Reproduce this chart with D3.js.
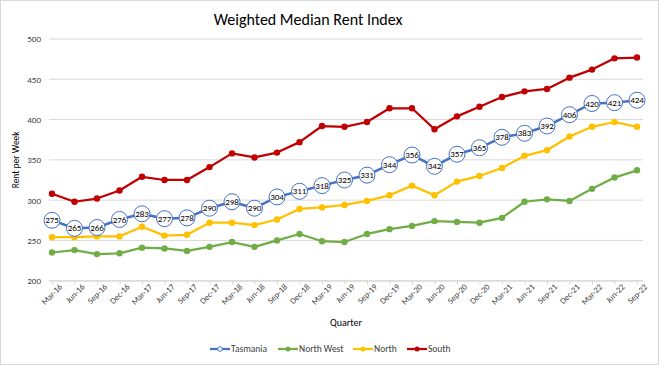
<!DOCTYPE html>
<html>
<head>
<meta charset="utf-8">
<script src="https://cdn.jsdelivr.net/npm/d3@7"></script>
<style>
  body { margin: 0; background: #fff; }
  svg { font-family: Calibri, Carlito, "Liberation Sans", Arial, sans-serif; }
  .grid line { stroke: #d9d9d9; stroke-width: 1; }
</style>
</head>
<body>
<svg id="chart" width="659" height="365"></svg>
<script>
// Chart data
const quarters = ["Mar-16","Jun-16","Sep-16","Dec-16","Mar-17","Jun-17","Sep-17","Dec-17","Mar-18","Jun-18",
  "Sep-18","Dec-18","Mar-19","Jun-19","Sep-19","Dec-19","Mar-20","Jun-20","Sep-20","Dec-20",
  "Mar-21","Jun-21","Sep-21","Dec-21","Mar-22","Jun-22","Sep-22"];
const tasmania = [275,265,266,276,283,277,278,290,298,290,304,311,318,325,331,344,356,342,357,365,378,383,392,406,420,421,424];
const northWest = [235,238,233,234,241,240,237,242,248,242,250,258,249,248,258,264,268,274,273,272,278,298,301,299,314,328,337];
const north = [254,254,255,255,267,256,257,272,272,269,276,289,291,294,299,306,318,306,323,330,340,355,362,379,391,397,391];
const south = [308,298,302,312,329,325,325,341,358,353,359,372,392,391,397,414,414,388,404,416,428,435,438,452,462,476,477];
const yTicks = [200,250,300,350,400,450,500];

const series = [
  { name: "Tasmania", values: tasmania, color: "#4472C4", labelled: true },
  { name: "North West", values: northWest, color: "#70AD47" },
  { name: "North", values: north, color: "#FFC000" },
  { name: "South", values: south, color: "#C00000" }
];

const svg = d3.select("#chart");
const W = 659, H = 365;

// outer border
svg.append("rect")
  .attr("x", 0.5).attr("y", 0.5)
  .attr("width", W - 1).attr("height", H - 1)
  .attr("fill", "#fff").attr("stroke", "#d9d9d9");

// scales
const x = d3.scalePoint().domain(quarters).range([52, 637]);
const y = d3.scaleLinear().domain([200, 500]).range([280.7, 39]);
const plotLeft = 49, plotRight = 643;

// title
svg.append("text")
  .attr("x", 308).attr("y", 25)
  .attr("text-anchor", "middle")
  .attr("font-size", 16)
  .attr("fill", "#000")
  .text("Weighted Median Rent Index");

// gridlines
const grid = svg.append("g").attr("class", "grid");
grid.selectAll("line")
  .data(yTicks)
  .join("line")
    .attr("x1", plotLeft).attr("x2", plotRight)
    .attr("y1", d => y(d)).attr("y2", d => y(d));

// y axis labels
const yAxis = d3.axisLeft(y).tickValues(yTicks).tickSize(0).tickPadding(8);
svg.append("g")
  .attr("transform", `translate(${plotLeft},0)`)
  .call(yAxis)
  .call(g => g.select(".domain").remove())
  .call(g => g.selectAll("text")
    .attr("font-size", 9).attr("fill", "#404040")
    .attr("font-family", "Calibri, Carlito, 'Liberation Sans', Arial, sans-serif"));

// x axis
const xAxis = d3.axisBottom(x).tickSize(4).tickPadding(3);
svg.append("g")
  .attr("transform", `translate(0,${y(200)})`)
  .call(xAxis)
  .call(g => g.select(".domain")
    .attr("d", `M${plotLeft},0.5H${plotRight}`)
    .attr("stroke", "#d9d9d9"))
  .call(g => g.selectAll(".tick line").attr("stroke", "#d9d9d9"))
  .call(g => g.selectAll("text")
    .attr("font-size", 8.5).attr("fill", "#404040")
    .attr("font-family", "Calibri, Carlito, 'Liberation Sans', Arial, sans-serif")
    .attr("text-anchor", "end")
    .attr("dx", "0.3em").attr("dy", "0.6em")
    .attr("transform", "rotate(-45)"));

// axis titles
svg.append("text")
  .attr("transform", `translate(19,${y(350)}) rotate(-90)`)
  .attr("text-anchor", "middle")
  .attr("font-size", 9.5).attr("fill", "#000")
  .text("Rent per Week");

svg.append("text")
  .attr("x", 346).attr("y", 326)
  .attr("text-anchor", "middle")
  .attr("font-size", 10).attr("fill", "#000")
  .text("Quarter");

// lines
const line = d3.line()
  .x((d, i) => x(quarters[i]))
  .y(d => y(d));

const seriesG = svg.append("g");
series.forEach(s => {
  seriesG.append("path")
    .datum(s.values)
    .attr("fill", "none")
    .attr("stroke", s.color)
    .attr("stroke-width", s.labelled ? 2.5 : 2.25)
    .attr("stroke-linejoin", "round")
    .attr("d", line);
  if (!s.labelled) {
    seriesG.append("g").selectAll("circle")
      .data(s.values)
      .join("circle")
        .attr("cx", (d, i) => x(quarters[i]))
        .attr("cy", d => y(d))
        .attr("r", 3.2)
        .attr("fill", s.color);
  }
});

// Tasmania labelled markers on top
const tasG = svg.append("g");
const tasNodes = tasG.selectAll("g")
  .data(tasmania)
  .join("g")
    .attr("transform", (d, i) => `translate(${x(quarters[i])},${y(d)})`);
tasNodes.append("circle")
  .attr("r", 8)
  .attr("fill", "#fff")
  .attr("stroke", "#4472C4")
  .attr("stroke-width", 1);
tasNodes.append("text")
  .attr("text-anchor", "middle")
  .attr("dy", "0.35em")
  .attr("font-size", 9).attr("fill", "#000")
  .text(d => d);

// legend
const legend = svg.append("g").attr("transform", "translate(0,349)");
const legendX = [210, 278, 353, 407];
series.forEach((s, i) => {
  const g = legend.append("g").attr("transform", `translate(${legendX[i]},0)`);
  g.append("line")
    .attr("x1", 0).attr("x2", 20)
    .attr("stroke", s.color).attr("stroke-width", 2.25);
  g.append("circle")
    .attr("cx", 10).attr("r", s.labelled ? 2.3 : 2.5)
    .attr("fill", s.labelled ? "#fff" : s.color)
    .attr("stroke", s.color).attr("stroke-width", s.labelled ? 1 : 0);
  g.append("text")
    .attr("x", 21).attr("dy", "0.35em")
    .attr("font-size", 9.5).attr("fill", "#404040")
    .text(s.name);
});
</script>
</body>
</html>
